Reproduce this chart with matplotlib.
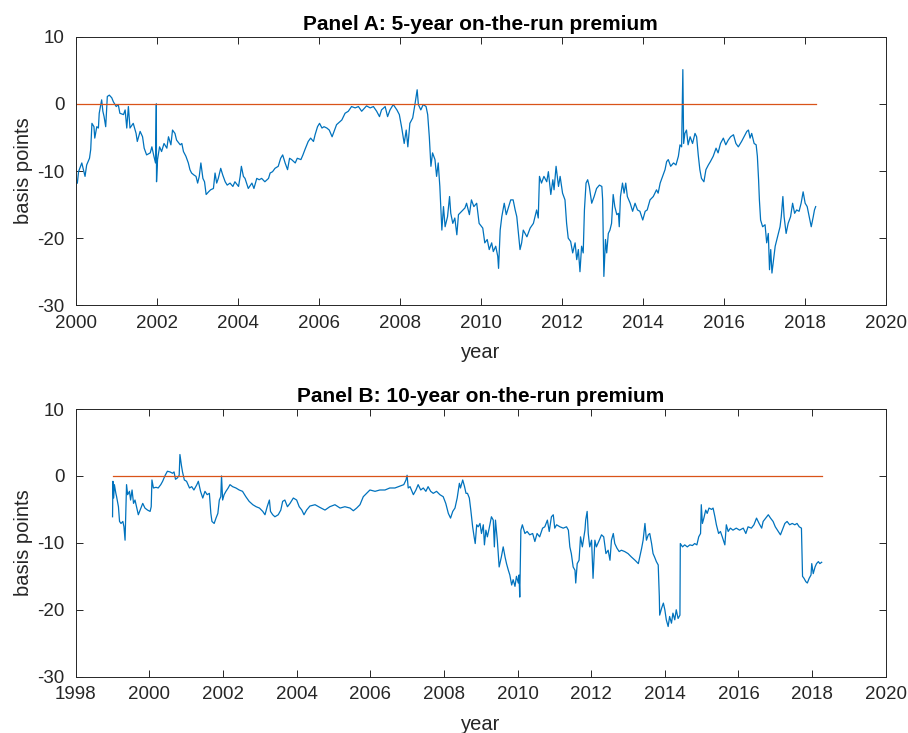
import matplotlib
matplotlib.use("Agg")
import matplotlib.pyplot as plt

plt.rcParams['font.family'] = ['Liberation Sans', 'DejaVu Sans']
plt.rcParams['axes.unicode_minus'] = False

# ---------------- Panel A: 5-year on-the-run premium ----------------
a5_year = [2000.04, 2000.07, 2000.15, 2000.23, 2000.27, 2000.34, 2000.37, 2000.40, 2000.45, 2000.47,
           2000.52, 2000.56, 2000.58, 2000.64, 2000.67, 2000.70, 2000.74, 2000.78, 2000.83, 2000.89,
           2000.93, 2001.00, 2001.05, 2001.09, 2001.18, 2001.22, 2001.26, 2001.30, 2001.34, 2001.42,
           2001.49, 2001.52, 2001.59, 2001.65, 2001.69, 2001.75, 2001.84, 2001.88, 2001.93, 2001.97,
           2001.99, 2001.995, 2002.02, 2002.07, 2002.12, 2002.18, 2002.25, 2002.29, 2002.35, 2002.39,
           2002.45, 2002.49, 2002.58, 2002.62, 2002.66, 2002.72, 2002.78, 2002.82, 2002.86, 2002.92,
           2002.97, 2003.01, 2003.05, 2003.09, 2003.14, 2003.18, 2003.22, 2003.28, 2003.33, 2003.40,
           2003.44, 2003.48, 2003.52, 2003.58, 2003.63, 2003.69, 2003.74, 2003.81, 2003.88, 2003.93,
           2004.02, 2004.06, 2004.09, 2004.14, 2004.18, 2004.26, 2004.35, 2004.40, 2004.47, 2004.53,
           2004.59, 2004.67, 2004.76, 2004.80, 2004.86, 2004.92, 2005.00, 2005.06, 2005.11, 2005.17,
           2005.23, 2005.28, 2005.33, 2005.42, 2005.47, 2005.56, 2005.61, 2005.66, 2005.74, 2005.80,
           2005.87, 2005.91, 2005.97, 2006.02, 2006.08, 2006.13, 2006.20, 2006.26, 2006.33, 2006.44,
           2006.57, 2006.65, 2006.73, 2006.81, 2006.90, 2006.98, 2007.06, 2007.18, 2007.27, 2007.35,
           2007.43, 2007.50, 2007.55, 2007.64, 2007.70, 2007.76, 2007.84, 2007.93, 2007.99, 2008.05,
           2008.11, 2008.16, 2008.20, 2008.25, 2008.32, 2008.38, 2008.43, 2008.46, 2008.52, 2008.58,
           2008.65, 2008.69, 2008.73, 2008.77, 2008.81, 2008.87, 2008.91, 2008.95, 2008.99, 2009.04,
           2009.08, 2009.12, 2009.18, 2009.23, 2009.26, 2009.31, 2009.36, 2009.41, 2009.45, 2009.53,
           2009.61, 2009.65, 2009.72, 2009.77, 2009.83, 2009.90, 2009.96, 2010.05, 2010.10, 2010.16,
           2010.21, 2010.27, 2010.31, 2010.37, 2010.42, 2010.44, 2010.48, 2010.52, 2010.58, 2010.63,
           2010.68, 2010.74, 2010.80, 2010.85, 2010.89, 2010.93, 2010.97, 2011.01, 2011.05, 2011.14,
           2011.22, 2011.30, 2011.38, 2011.42, 2011.45, 2011.50, 2011.56, 2011.63, 2011.67, 2011.73,
           2011.78, 2011.81, 2011.86, 2011.92, 2011.96, 2012.02, 2012.08, 2012.12, 2012.16, 2012.22,
           2012.27, 2012.33, 2012.37, 2012.41, 2012.45, 2012.49, 2012.53, 2012.56, 2012.60, 2012.64,
           2012.68, 2012.74, 2012.80, 2012.86, 2012.93, 2012.99, 2013.01, 2013.04, 2013.08, 2013.11,
           2013.15, 2013.19, 2013.23, 2013.27, 2013.31, 2013.36, 2013.40, 2013.42, 2013.45, 2013.50,
           2013.54, 2013.58, 2013.62, 2013.69, 2013.75, 2013.81, 2013.87, 2013.93, 2014.00, 2014.06,
           2014.11, 2014.18, 2014.26, 2014.34, 2014.38, 2014.43, 2014.49, 2014.55, 2014.59, 2014.63,
           2014.69, 2014.76, 2014.82, 2014.88, 2014.92, 2014.96, 2014.99, 2015.01, 2015.04, 2015.08,
           2015.12, 2015.17, 2015.23, 2015.29, 2015.33, 2015.37, 2015.41, 2015.45, 2015.51, 2015.56,
           2015.62, 2015.67, 2015.74, 2015.81, 2015.86, 2015.92, 2015.99, 2016.05, 2016.11, 2016.17,
           2016.24, 2016.30, 2016.36, 2016.44, 2016.50, 2016.57, 2016.61, 2016.65, 2016.69, 2016.75,
           2016.80, 2016.83, 2016.86, 2016.88, 2016.91, 2016.96, 2017.02, 2017.06, 2017.10, 2017.13,
           2017.16, 2017.19, 2017.23, 2017.27, 2017.32, 2017.39, 2017.42, 2017.46, 2017.49, 2017.54,
           2017.59, 2017.65, 2017.70, 2017.75, 2017.80, 2017.86, 2017.91, 2017.96, 2018.01, 2018.06,
           2018.11, 2018.16, 2018.21, 2018.24, 2018.27]
a5_bp = [-11.8, -10.1, -8.8, -10.8, -9.1, -8.1, -6.8, -2.9, -3.4, -5.1,
         -3.4, -3.6, -1.4, 0.6, -1.1, -1.9, -3.4, 1.1, 1.3, 0.9,
         0.3, -0.4, -0.1, -1.4, -1.6, -0.9, -3.6, -0.4, -3.6, -2.9,
         -4.4, -5.6, -4.1, -4.9, -6.6, -7.6, -7.3, -6.4, -7.8, -8.8,
         0.0, -11.6, -8.3, -6.4, -7.1, -5.9, -6.6, -4.9, -6.1, -3.9,
         -4.4, -5.4, -6.1, -5.9, -7.1, -7.8, -8.8, -9.8, -10.3, -10.6,
         -10.8, -11.8, -10.8, -8.8, -11.1, -11.6, -13.5, -13.1, -12.8, -12.6,
         -10.3, -11.8, -11.1, -9.6, -10.6, -11.6, -12.1, -11.8, -12.3, -11.6,
         -12.3, -10.8, -9.3, -10.8, -11.1, -12.6, -11.8, -12.6, -11.1, -11.3,
         -11.1, -11.6, -11.1, -10.3, -10.1, -9.6, -9.3, -8.1, -7.6, -8.8,
         -9.8, -8.1, -8.3, -8.8, -8.1, -8.3, -7.6, -6.8, -5.6, -5.1,
         -5.6, -4.6, -3.4, -2.9, -3.6, -3.4, -3.6, -3.9, -4.9, -3.1,
         -2.4, -1.4, -1.1, -0.4, -0.6, -0.4, -1.1, -0.3, -0.6, -0.4,
         -1.1, -1.9, -0.9, -0.4, -1.9, -0.9, -0.1, -0.9, -1.6, -3.6,
         -5.9, -3.9, -6.4, -2.9, -2.1, 0.1, 2.1, -0.1, -0.9, -0.1,
         -0.4, -1.6, -4.9, -9.3, -7.3, -8.3, -10.8, -8.8, -12.3, -18.8,
         -15.3, -18.3, -16.8, -13.8, -16.3, -17.8, -17.0, -19.5, -16.5, -16.0,
         -15.5, -14.8, -16.5, -14.3, -15.3, -14.8, -17.8, -18.5, -20.7, -20.2,
         -21.7, -20.7, -22.0, -21.2, -22.7, -24.5, -18.8, -16.8, -14.8, -16.5,
         -15.5, -14.3, -14.3, -15.8, -16.8, -19.3, -21.7, -20.7, -18.8, -19.8,
         -18.5, -17.8, -15.8, -17.0, -10.8, -11.8, -10.8, -11.6, -10.1, -13.5,
         -11.3, -12.8, -9.3, -12.3, -10.8, -13.3, -14.3, -17.8, -20.0, -20.5,
         -22.2, -20.7, -23.2, -21.7, -25.0, -21.2, -22.2, -15.8, -11.8, -11.3,
         -12.3, -14.8, -13.8, -12.6, -12.1, -12.3, -14.3, -25.7, -20.2, -22.2,
         -19.3, -18.8, -17.8, -13.5, -15.3, -16.5, -16.3, -18.3, -13.8, -11.8,
         -13.3, -11.8, -13.8, -14.8, -16.0, -14.8, -15.8, -16.0, -17.3, -16.0,
         -15.8, -14.3, -13.8, -12.8, -13.3, -11.8, -10.8, -9.8, -8.6, -8.3,
         -9.3, -8.8, -9.1, -7.8, -6.1, -6.4, 5.1, -5.9, -4.4, -3.9,
         -6.1, -4.9, -5.9, -4.4, -4.9, -7.6, -9.8, -11.1, -11.6, -9.8,
         -9.1, -8.6, -7.8, -6.6, -7.3, -5.9, -5.1, -6.1, -5.4, -4.9,
         -4.6, -5.9, -6.4, -5.6, -4.9, -4.1, -3.9, -5.1, -4.4, -5.9,
         -6.1, -7.8, -11.3, -14.3, -17.3, -18.3, -18.0, -20.7, -19.3, -24.7,
         -21.7, -25.2, -23.2, -21.2, -20.0, -18.3, -16.8, -13.8, -16.8, -19.3,
         -17.8, -16.8, -14.8, -16.3, -15.8, -16.0, -14.8, -13.1, -14.8, -15.3,
         -16.8, -18.3, -16.8, -15.8, -15.3]
a5_zero_span = [2000.0, 2018.27]

# ---------------- Panel B: 10-year on-the-run premium ----------------
b10_year = [1999.00, 1999.01, 1999.03, 1999.05, 1999.09, 1999.11, 1999.16, 1999.19, 1999.23, 1999.28,
            1999.31, 1999.34, 1999.37, 1999.38, 1999.41, 1999.46, 1999.49, 1999.53, 1999.57, 1999.61,
            1999.66, 1999.70, 1999.75, 1999.82, 1999.88, 1999.95, 2000.02, 2000.05, 2000.07, 2000.11,
            2000.18, 2000.24, 2000.31, 2000.36, 2000.43, 2000.49, 2000.56, 2000.63, 2000.67, 2000.71,
            2000.76, 2000.81, 2000.83, 2000.87, 2000.90, 2000.95, 2001.01, 2001.09, 2001.15, 2001.21,
            2001.29, 2001.33, 2001.39, 2001.45, 2001.51, 2001.57, 2001.63, 2001.67, 2001.70, 2001.76,
            2001.81, 2001.86, 2001.90, 2001.94, 2001.96, 2001.99, 2002.03, 2002.08, 2002.14, 2002.19,
            2002.26, 2002.35, 2002.44, 2002.53, 2002.62, 2002.71, 2002.81, 2002.90, 2002.99, 2003.08,
            2003.14, 2003.20, 2003.26, 2003.29, 2003.35, 2003.41, 2003.50, 2003.57, 2003.62, 2003.68,
            2003.75, 2003.82, 2003.91, 2004.00, 2004.07, 2004.14, 2004.20, 2004.27, 2004.36, 2004.50,
            2004.63, 2004.77, 2004.90, 2005.04, 2005.18, 2005.31, 2005.45, 2005.54, 2005.63, 2005.72,
            2005.81, 2005.90, 2005.99, 2006.13, 2006.26, 2006.40, 2006.53, 2006.67, 2006.81, 2006.91,
            2006.97, 2007.00, 2007.03, 2007.08, 2007.17, 2007.24, 2007.30, 2007.37, 2007.44, 2007.51,
            2007.57, 2007.64, 2007.71, 2007.80, 2007.89, 2007.98, 2008.05, 2008.12, 2008.18, 2008.24,
            2008.30, 2008.36, 2008.42, 2008.45, 2008.51, 2008.56, 2008.60, 2008.64, 2008.69, 2008.73,
            2008.78, 2008.82, 2008.85, 2008.89, 2008.93, 2008.98, 2009.02, 2009.07, 2009.10, 2009.14,
            2009.18, 2009.23, 2009.29, 2009.34, 2009.37, 2009.40, 2009.45, 2009.50, 2009.56, 2009.61,
            2009.66, 2009.70, 2009.75, 2009.79, 2009.84, 2009.88, 2009.93, 2009.97, 2010.02, 2010.04,
            2010.06, 2010.09, 2010.13, 2010.20, 2010.26, 2010.33, 2010.41, 2010.47, 2010.53, 2010.60,
            2010.68, 2010.74, 2010.81, 2010.86, 2010.92, 2010.97, 2011.01, 2011.06, 2011.15, 2011.24,
            2011.33, 2011.38, 2011.42, 2011.46, 2011.51, 2011.56, 2011.58, 2011.62, 2011.67, 2011.71,
            2011.76, 2011.83, 2011.85, 2011.89, 2011.92, 2011.96, 2012.01, 2012.05, 2012.10, 2012.14,
            2012.22, 2012.28, 2012.34, 2012.40, 2012.46, 2012.51, 2012.55, 2012.60, 2012.64, 2012.70,
            2012.76, 2012.82, 2012.91, 2013.00, 2013.09, 2013.19, 2013.28, 2013.32, 2013.37, 2013.41,
            2013.46, 2013.50, 2013.55, 2013.59, 2013.64, 2013.68, 2013.72, 2013.77, 2013.82, 2013.85,
            2013.86, 2013.91, 2013.96, 2014.00, 2014.04, 2014.09, 2014.13, 2014.18, 2014.22, 2014.27,
            2014.31, 2014.36, 2014.41, 2014.42, 2014.48, 2014.54, 2014.61, 2014.68, 2014.75, 2014.81,
            2014.87, 2014.92, 2014.97, 2014.99, 2015.02, 2015.06, 2015.11, 2015.15, 2015.20, 2015.27,
            2015.31, 2015.36, 2015.40, 2015.46, 2015.51, 2015.56, 2015.63, 2015.67, 2015.72, 2015.78,
            2015.85, 2015.94, 2016.03, 2016.13, 2016.20, 2016.26, 2016.35, 2016.42, 2016.49, 2016.56,
            2016.63, 2016.67, 2016.74, 2016.81, 2016.87, 2016.94, 2017.00, 2017.08, 2017.14, 2017.19,
            2017.26, 2017.32, 2017.39, 2017.46, 2017.53, 2017.59, 2017.65, 2017.71, 2017.74, 2017.78,
            2017.83, 2017.87, 2017.92, 2017.97, 2017.99, 2018.03, 2018.08, 2018.12, 2018.17, 2018.21,
            2018.26]
b10_bp = [-6.1, -0.8, -3.3, -1.3, -2.6, -3.1, -4.6, -6.8, -7.1, -6.8,
          -7.6, -9.6, -3.6, -1.3, -2.8, -2.3, -3.6, -2.1, -4.1, -3.6,
          -4.8, -5.8, -5.1, -4.1, -4.8, -5.1, -5.3, -4.6, -0.6, -1.8,
          -1.7, -1.8, -1.3, -0.8, 0.1, 0.7, 0.6, 0.4, 0.6, -0.5,
          -0.3, 0.1, 3.2, 1.6, 0.6, -0.6, -0.8, -1.8, -1.6, -2.1,
          -1.3, -0.8, -2.3, -3.3, -2.3, -2.8, -2.6, -5.6, -6.8, -7.1,
          -6.3, -5.6, -3.6, -3.1, 0.0, -3.6, -2.8, -2.3, -1.8, -1.3,
          -1.6, -1.8, -2.1, -2.3, -3.1, -3.8, -4.3, -4.6, -4.8, -5.3,
          -5.8, -4.6, -3.6, -5.3, -5.8, -6.1, -5.8, -5.1, -3.8, -3.6,
          -4.6, -4.1, -3.3, -3.6, -4.6, -5.1, -5.8, -5.1, -4.5, -4.3,
          -4.7, -5.1, -4.6, -4.3, -4.8, -4.6, -4.8, -5.2, -4.8, -4.3,
          -3.1, -2.6, -2.1, -2.3, -2.1, -2.1, -1.8, -1.8, -1.5, -1.3,
          -0.6, 0.1, -1.8, -1.6, -2.8, -2.1, -1.3, -2.1, -1.8, -2.3,
          -1.6, -2.3, -2.6, -2.3, -2.8, -3.1, -4.1, -5.6, -6.3, -5.3,
          -4.8, -3.3, -1.1, -1.8, -0.6, -1.6, -2.6, -2.6, -3.3, -5.1,
          -7.6, -9.1, -10.1, -7.3, -7.6, -7.1, -8.6, -7.3, -10.3, -8.1,
          -9.1, -7.8, -6.1, -6.6, -10.6, -6.6, -9.6, -13.6, -12.1, -10.6,
          -12.1, -13.1, -14.1, -14.8, -16.3, -15.5, -16.5, -15.0, -16.0, -14.8,
          -18.1, -8.1, -7.3, -8.6, -8.3, -8.8, -8.6, -9.8, -8.6, -9.1,
          -7.8, -7.6, -6.6, -8.3, -6.1, -5.8, -7.8, -7.3, -7.6, -7.8,
          -7.6, -8.1, -10.6, -11.6, -13.6, -14.1, -16.0, -13.1, -12.6, -9.1,
          -10.6, -8.1, -6.6, -5.3, -8.6, -10.6, -9.6, -15.3, -9.6, -10.6,
          -9.6, -8.8, -9.1, -11.6, -11.1, -12.6, -9.6, -8.6, -10.1, -10.8,
          -11.3, -11.1, -11.3, -11.6, -12.1, -12.6, -13.1, -12.1, -10.8, -9.6,
          -7.1, -9.6, -8.8, -8.6, -10.1, -11.6, -12.1, -12.8, -13.3, -18.0,
          -20.8, -19.8, -19.0, -20.0, -21.5, -22.5, -21.0, -22.0, -20.5, -21.5,
          -20.0, -21.3, -20.8, -10.1, -10.6, -10.3, -10.6, -10.3, -10.4, -10.1,
          -10.3, -9.1, -8.6, -4.3, -7.1, -6.3, -5.1, -5.6, -4.8, -5.0,
          -4.8, -6.1, -7.3, -8.6, -8.3, -9.1, -10.3, -7.3, -8.3, -7.8,
          -8.1, -7.8, -8.1, -7.8, -8.6, -7.6, -7.8, -7.3, -6.3, -7.1,
          -7.8, -6.8, -6.3, -5.8, -6.3, -6.8, -7.6, -8.3, -8.8, -8.1,
          -7.1, -6.8, -7.3, -7.1, -7.3, -7.1, -7.6, -7.8, -15.0, -15.3,
          -15.8, -16.0, -15.3, -14.8, -13.1, -14.6, -13.6, -13.1, -12.8, -13.1,
          -12.9]
b10_zero_span = [1999.0, 2018.26]

BLUE = '#0072BD'
ORANGE = '#D95319'
AXC = '#262626'

fig = plt.figure(figsize=(9.08, 7.33), dpi=100)
axA = fig.add_axes([0.0834, 0.5835, 0.8921, 0.3664])
axB = fig.add_axes([0.0834, 0.0768, 0.8921, 0.3652])

panels = [
    (axA, a5_year, a5_bp, a5_zero_span, (2000, 2020), 'Panel A: 5-year on-the-run premium'),
    (axB, b10_year, b10_bp, b10_zero_span, (1998, 2020), 'Panel B: 10-year on-the-run premium'),
]

for ax, yrs, vals, zspan, xl, title in panels:
    ax.plot(yrs, vals, color=BLUE, lw=0.9)
    ax.plot(zspan, [0, 0], color=ORANGE, lw=0.9)
    ax.set_xlim(*xl)
    ax.set_ylim(-30, 10)
    ax.set_xticks(range(xl[0], xl[1] + 1, 2))
    ax.set_yticks([-30, -20, -10, 0, 10])
    ax.tick_params(direction='in', top=True, right=True, length=5, width=0.7,
                   colors=AXC, labelsize=13.5)
    ax.tick_params(axis='x', pad=7)
    ax.tick_params(axis='y', pad=8)
    for s in ax.spines.values():
        s.set_color(AXC)
        s.set_linewidth(0.7)
    ax.set_title(title, fontsize=15, fontweight='bold', pad=5)
    ax.set_xlabel('year', fontsize=14.5, color=AXC, labelpad=8)
    ax.set_ylabel('basis points', fontsize=14.5, color=AXC, labelpad=3)

fig.savefig('out.png', dpi=100)
